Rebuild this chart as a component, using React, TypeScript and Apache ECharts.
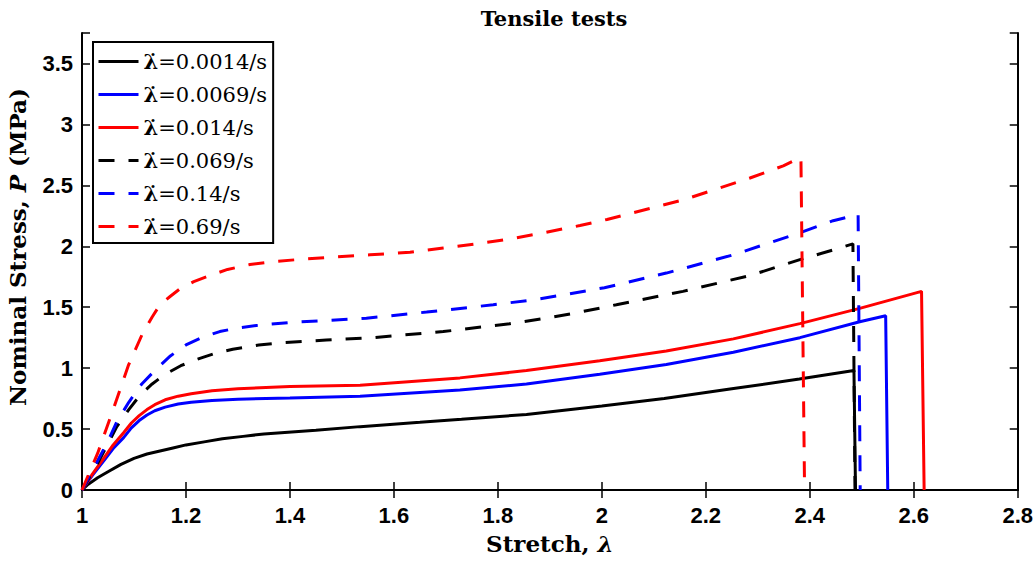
import React, { useEffect, useRef } from "react";
import * as echarts from "echarts";

// Strain rates (1/s) for each tensile test
const rates = ["0.0014", "0.0069", "0.014", "0.069", "0.14", "0.69"];

// Stretch λ vs nominal stress P (MPa); last point is the drop at failure
const rate0014: [number, number][] = [
  [1, 0], [1.01, 0.04], [1.03, 0.1], [1.05, 0.15], [1.075, 0.21], [1.1, 0.26],
  [1.125, 0.295], [1.15, 0.32], [1.175, 0.345], [1.2, 0.37], [1.235, 0.395],
  [1.27, 0.42], [1.31, 0.44], [1.35, 0.46], [1.45, 0.49], [1.535, 0.52],
  [1.65, 0.555], [1.73, 0.58], [1.855, 0.62], [2.0, 0.69], [2.12, 0.75],
  [2.25, 0.83], [2.38, 0.91], [2.485, 0.98], [2.488, 0],
];
const rate0069: [number, number][] = [
  [1, 0], [1.02, 0.12], [1.04, 0.23], [1.06, 0.34], [1.08, 0.43], [1.095, 0.51],
  [1.11, 0.57], [1.125, 0.615], [1.14, 0.65], [1.16, 0.68], [1.185, 0.705],
  [1.21, 0.72], [1.25, 0.735], [1.3, 0.745], [1.4, 0.755], [1.535, 0.77],
  [1.727, 0.82], [1.855, 0.87], [1.996, 0.95], [2.124, 1.03], [2.253, 1.13],
  [2.381, 1.25], [2.496, 1.38], [2.546, 1.43], [2.55, 0],
];
const rate014: [number, number][] = [
  [1, 0], [1.02, 0.13], [1.04, 0.25], [1.06, 0.37], [1.08, 0.47], [1.095, 0.55],
  [1.11, 0.61], [1.125, 0.66], [1.14, 0.7], [1.16, 0.74], [1.185, 0.77],
  [1.21, 0.79], [1.25, 0.815], [1.3, 0.83], [1.4, 0.85], [1.535, 0.86],
  [1.727, 0.92], [1.855, 0.98], [1.996, 1.06], [2.124, 1.14], [2.253, 1.24],
  [2.381, 1.365], [2.496, 1.49], [2.615, 1.63], [2.62, 0],
];
const rate069: [number, number][] = [
  [1, 0], [1.03, 0.22], [1.05, 0.38], [1.067, 0.52], [1.09, 0.66], [1.112, 0.78],
  [1.135, 0.87], [1.16, 0.95], [1.19, 1.02], [1.22, 1.07], [1.255, 1.12],
  [1.29, 1.155], [1.34, 1.19], [1.387, 1.21], [1.47, 1.23], [1.56, 1.25],
  [1.695, 1.3], [1.823, 1.365], [1.894, 1.41], [1.958, 1.46], [2.028, 1.52],
  [2.156, 1.63], [2.285, 1.76], [2.381, 1.89], [2.445, 1.97], [2.483, 2.02],
  [2.487, 0],
];
const rate14: [number, number][] = [
  [1, 0], [1.03, 0.24], [1.05, 0.4], [1.067, 0.56], [1.09, 0.72], [1.115, 0.87],
  [1.14, 0.98], [1.17, 1.1], [1.2, 1.19], [1.23, 1.25], [1.265, 1.3], [1.3, 1.33],
  [1.336, 1.35], [1.4, 1.375], [1.464, 1.39], [1.547, 1.41], [1.663, 1.46],
  [1.791, 1.52], [1.868, 1.56], [1.938, 1.61], [2.005, 1.66], [2.124, 1.78],
  [2.253, 1.93], [2.381, 2.11], [2.445, 2.21], [2.493, 2.26], [2.497, 0],
];
const rate69: [number, number][] = [
  [1, 0], [1.03, 0.3], [1.06, 0.66], [1.089, 1.02], [1.115, 1.27], [1.135, 1.42],
  [1.15, 1.52], [1.17, 1.59], [1.188, 1.65], [1.215, 1.71], [1.246, 1.76],
  [1.28, 1.81], [1.323, 1.85], [1.37, 1.875], [1.413, 1.89], [1.48, 1.91],
  [1.554, 1.93], [1.631, 1.95], [1.695, 1.985], [1.759, 2.02], [1.823, 2.06],
  [1.887, 2.11], [1.958, 2.17], [2.01, 2.22], [2.092, 2.31], [2.156, 2.38],
  [2.221, 2.47], [2.285, 2.56], [2.349, 2.66], [2.383, 2.73], [2.39, 0],
];

const curves = [rate0014, rate0069, rate014, rate069, rate14, rate69];
const colors = ["#000000", "#0000ff", "#ff0000", "#000000", "#0000ff", "#ff0000"];
const dashed = [false, false, false, true, true, true];

const serif = "'DejaVu Serif', 'Liberation Serif', serif";
const sans = "'Liberation Sans', Arial, sans-serif";

export default function App() {
  const ref = useRef<HTMLDivElement>(null);

  useEffect(() => {
    if (!ref.current) return;
    const chart = echarts.init(ref.current, undefined, { renderer: "svg" });

    const tickLabel = {
      fontFamily: sans,
      fontWeight: "bold" as const,
      fontSize: 22,
      color: "#000",
    };
    const axisLine = { show: true, lineStyle: { color: "#000", width: 2 } };
    const axisTick = { show: true, inside: true, length: 8, lineStyle: { color: "#000", width: 1.5 } };

    const xBase = { type: "value" as const, min: 1, max: 2.8, interval: 0.2, splitLine: { show: false } };
    const yBase = { type: "value" as const, min: 0, max: 3.75, interval: 0.5, splitLine: { show: false } };

    const nameStyle = { fontFamily: serif, fontWeight: "bold" as const, fontSize: 23, color: "#000" };

    chart.setOption({
      animation: false,
      backgroundColor: "#fff",
      title: {
        text: "Tensile tests",
        left: 549,
        top: 3,
        textAlign: "center",
        textStyle: { fontFamily: serif, fontWeight: "bold", fontSize: 21, color: "#000" },
      },
      grid: { left: 82, right: 16, top: 33, bottom: 71, show: false },
      legend: {
        orient: "vertical",
        left: 93,
        top: 42,
        backgroundColor: "#fff",
        borderColor: "#000",
        borderWidth: 2,
        borderRadius: 0,
        padding: [9, 6, 6, 4],
        itemWidth: 40,
        itemHeight: 14,
        itemGap: 12,
        itemStyle: { opacity: 0 },
        lineStyle: { width: 3 },
        data: rates,
        formatter: (name: string) => `{l|λ̇}{n|=${name}/s}`,
        textStyle: {
          rich: {
            l: { fontFamily: serif, fontWeight: "bold", fontSize: 21, color: "#000" },
            n: { fontFamily: serif, fontSize: 21, color: "#000" },
          },
        },
      },
      graphic: [
        {
          type: "text",
          x: 17,
          y: 247,
          rotation: Math.PI / 2,
          style: {
            text: "Nominal Stress, {i|P} (MPa)",
            ...nameStyle,
            align: "center",
            verticalAlign: "middle",
            rich: { i: { ...nameStyle, fontStyle: "italic" } },
          },
        },
      ],
      xAxis: [
        {
          ...xBase,
          position: "bottom",
          axisLine,
          axisTick,
          axisLabel: { ...tickLabel, margin: 14 },
          name: "Stretch, {i|λ}",
          nameLocation: "middle",
          nameGap: 42,
          nameTextStyle: { ...nameStyle, rich: { i: { ...nameStyle, fontStyle: "italic" } } },
        },
        { ...xBase, position: "top", axisLine, axisTick, axisLabel: { show: false } },
      ],
      yAxis: [
        {
          ...yBase,
          position: "left",
          axisLine,
          axisTick,
          axisLabel: {
            ...tickLabel,
            margin: 9,
            formatter: (v: number) => (v > 3.6 ? "" : String(v)),
          },
        },
        { ...yBase, position: "right", axisLine, axisTick, axisLabel: { show: false } },
      ],
      series: curves.map((data, i) => ({
        name: rates[i],
        type: "line",
        xAxisIndex: 0,
        yAxisIndex: 0,
        data,
        symbol: "none",
        showSymbol: false,
        smooth: false,
        lineStyle: { color: colors[i], width: 3, type: dashed[i] ? [16, 14] : "solid" },
        itemStyle: { color: colors[i] },
        z: 2 + i,
      })),
    });

    return () => chart.dispose();
  }, []);

  return (
    <div
      ref={ref}
      style={{ position: "fixed", left: 0, top: 0, width: 1036, height: 561, background: "#fff" }}
    />
  );
}
